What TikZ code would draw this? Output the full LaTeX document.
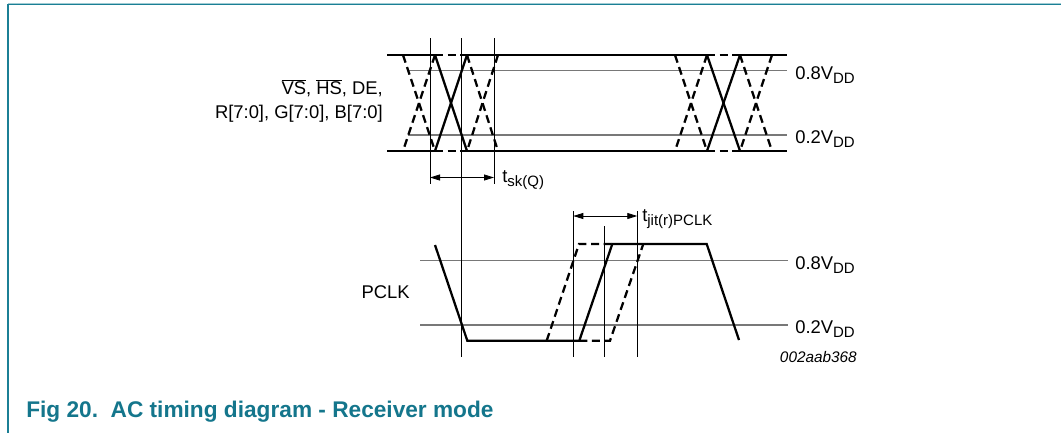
\documentclass[tikz,border=0pt]{standalone}
\usepackage{fontspec}
\setmainfont{Liberation Sans}
\usetikzlibrary{arrows.meta}
\definecolor{tealdark}{RGB}{27,127,149}
\definecolor{teallight}{RGB}{160,204,212}
\definecolor{capcol}{RGB}{20,118,140}
\definecolor{lvlgray}{RGB}{120,120,120}
\newcommand\lblfont{\fontsize{13.8pt}{16pt}\selectfont}
\newcommand\sbs[1]{\raisebox{-3pt}{\fontsize{11.25pt}{12pt}\selectfont #1}}
\begin{document}
\begin{tikzpicture}[x=0.75pt,y=-0.75pt,
  wave/.style={line width=1.7pt, line cap=butt, line join=miter},
  dsh/.style={wave, dash pattern=on 6pt off 3.5pt},
  lvl/.style={draw=lvlgray, line width=0.8pt},
  vln/.style={line width=0.6pt},
  dim/.style={line width=0.6pt, {Triangle[length=7.5pt,width=4.5pt]}-{Triangle[length=7.5pt,width=4.5pt]}},
  txt/.style={font=\lblfont, inner sep=0pt}]
\useasboundingbox (0,0) rectangle (1061,433);
% frame
\draw[teallight, line width=0.9pt] (8,3.2) -- (1061,3.2);
\draw[tealdark, line width=1.2pt] (8,4.6) -- (1061,4.6);
\draw[tealdark, line width=1.4pt] (8,4) -- (8,433);
% ---------- data signals ----------
% threshold lines
\draw[lvl] (408,70.7) -- (787,70.7);
\draw[lvl] (408,135) -- (787,135);
% rails
\foreach \yy in {55,151}{
  \draw[wave] (387,\yy) -- (435,\yy);
  \draw[dsh] (435,\yy) -- (467,\yy);
  \draw[wave] (467,\yy) -- (707,\yy);
  \draw[dsh] (707,\yy) -- (740,\yy);
  \draw[wave] (740,\yy) -- (787,\yy);
}
% first transition group
\draw[dsh] (403,55) -- (435,151);
\draw[dsh] (435,55) -- (403,151);
\draw[wave] (435,55) -- (467,151);
\draw[wave] (467,55) -- (435,151);
\draw[dsh] (467,55) -- (498,151);
\draw[dsh] (498,55) -- (467,151);
% second transition group
\draw[dsh] (675,55) -- (707,151);
\draw[dsh] (707,55) -- (675,151);
\draw[wave] (707,55) -- (740,151);
\draw[wave] (740,55) -- (707,151);
\draw[dsh] (740,55) -- (772,151);
\draw[dsh] (772,55) -- (740,151);
% ---------- PCLK ----------
\draw[lvl] (420,260.7) -- (788,260.7);
\draw[lvl] (420,325) -- (788,325);
\draw[wave] (435,245) -- (467.3,340.7) -- (579.3,340.7) -- (612.3,244) -- (706.7,244) -- (739,340);
\draw[dsh] (546.7,340.7) -- (579,244) -- (612.3,244);
\draw[dsh] (579.3,340.7) -- (610,340.7) -- (643.3,244);
% ---------- vertical reference lines ----------
\coordinate (v1t) at (430,38);   \coordinate (v1b) at (430,184);
\coordinate (v2t) at (461.7,38); \coordinate (v2b) at (461.7,357);
\coordinate (v3t) at (494,38);   \coordinate (v3b) at (494,184);
\coordinate (v4t) at (573.3,211); \coordinate (v4b) at (573.3,357);
\coordinate (v5t) at (604.3,226); \coordinate (v5b) at (604.3,357);
\coordinate (v6t) at (637.3,211); \coordinate (v6b) at (637.3,357);
\draw[vln] (v1t) -- (v1b);
\draw[vln] (v2t) -- (v2b);
\draw[vln] (v3t) -- (v3b);
\draw[vln] (v4t) -- (v4b);
\draw[vln] (v5t) -- (v5b);
\draw[vln] (v6t) -- (v6b);
% dimension arrows
\coordinate (sk1) at (430,177.5); \coordinate (sk2) at (494,177.5);
\coordinate (jt1) at (573.3,216); \coordinate (jt2) at (637.3,216);
\draw[dim] (sk1) -- (sk2);
\draw[dim] (jt1) -- (jt2);
% ---------- labels ----------
\node[txt, anchor=base east] (lab1) at (383,94.5) {$\overline{\mbox{VS}}$, $\overline{\mbox{HS}}$, DE,};
\node[txt, anchor=base east] (lab2) at (383,118) {R[7:0], G[7:0], B[7:0]};
\node[txt, anchor=east] (pclk) at (410,292) {PCLK};
\node[txt, anchor=base west] (l08a) at (795,79) {0.8V\sbs{DD}};
\node[txt, anchor=base west] (l02a) at (795,143.3) {0.2V\sbs{DD}};
\node[txt, anchor=base west] (l08b) at (795,269) {0.8V\sbs{DD}};
\node[txt, anchor=base west] (l02b) at (795,333.3) {0.2V\sbs{DD}};
\node[txt, anchor=base west] (tsk) at (502,182.7) {t\sbs{sk(Q)}};
\node[txt, anchor=base west] (tjit) at (642,221.7) {t\sbs{jit(r)PCLK}};
\node[inner sep=0pt, anchor=east, font=\fontsize{11.5pt}{13pt}\selectfont\itshape] (code) at (857,357) {002aab368};
\node[inner sep=0pt, anchor=base west, text=capcol, font=\fontsize{17pt}{20pt}\selectfont\bfseries] (cap) at (26,417.3) {Fig 20.\ \ AC timing diagram - Receiver mode};
\end{tikzpicture}
\end{document}
